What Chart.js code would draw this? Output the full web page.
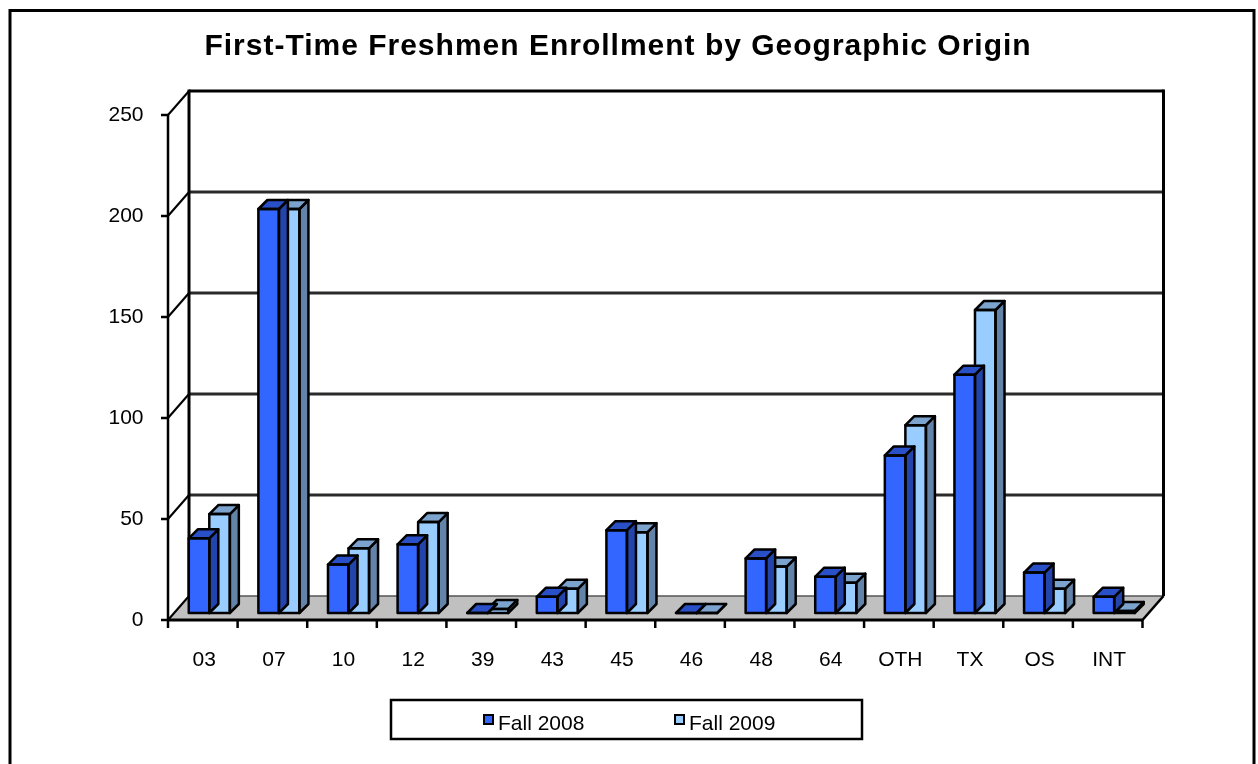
<!DOCTYPE html>
<html>
<head>
<meta charset="utf-8">
<title>First-Time Freshmen Enrollment by Geographic Origin</title>
<script src="https://cdn.jsdelivr.net/npm/chart.js@4/dist/chart.umd.min.js"></script>
<style>
  html, body { margin: 0; padding: 0; background: #fff; }
  #wrap { width: 1258px; height: 764px; }
</style>
</head>
<body>
<div id="wrap"><canvas id="chart" width="1258" height="764"></canvas></div>
<script>
// data
const categories = ['03', '07', '10', '12', '39', '43', '45', '46', '48', '64', 'OTH', 'TX', 'OS', 'INT'];
const fall2008 = [37, 200, 24, 34, 0, 8, 41, 0, 27, 18, 78, 118, 20, 8];
const fall2009 = [49, 200, 32, 45, 2, 12, 40, 0, 23, 15, 93, 150, 12, 1];
const yTicks = [0, 50, 100, 150, 200, 250];
const seriesNames = ['Fall 2008', 'Fall 2009'];
const chartTitle = 'First-Time Freshmen Enrollment by Geographic Origin';

const FONT = "'Liberation Sans', Arial, sans-serif";

// fake 3d: offsets of the front axis and the back wall from the bar plane
const depth = {
  front: { dx: -6.5, dy: 7 },
  back: { dx: 14.5, dy: -17 },
  bar: 9
};

function line(ctx, x1, y1, x2, y2) {
  ctx.beginPath();
  ctx.moveTo(x1, y1);
  ctx.lineTo(x2, y2);
  ctx.stroke();
}

function poly(ctx, pts, fill) {
  ctx.beginPath();
  ctx.moveTo(pts[0][0], pts[0][1]);
  for (let i = 1; i < pts.length; i++) ctx.lineTo(pts[i][0], pts[i][1]);
  ctx.closePath();
  ctx.fillStyle = fill;
  ctx.fill();
  ctx.stroke();
}

const walls3d = {
  id: 'walls3d',
  beforeDatasetsDraw(chart) {
    const ctx = chart.ctx;
    const x = chart.scales.x, y = chart.scales.y;
    const f = depth.front, b = depth.back;
    const yMax = yTicks[yTicks.length - 1];
    const y0 = y.getPixelForValue(0);
    const yTop = y.getPixelForValue(yMax);
    ctx.save();
    ctx.lineCap = 'butt';

    // floor
    ctx.beginPath();
    ctx.moveTo(x.left + f.dx, y0 + f.dy);
    ctx.lineTo(x.right + f.dx, y0 + f.dy);
    ctx.lineTo(x.right + b.dx, y0 + b.dy);
    ctx.lineTo(x.left + b.dx, y0 + b.dy);
    ctx.closePath();
    ctx.fillStyle = '#c0c0c0';
    ctx.fill();

    // gridlines on back wall, side wall diagonals, tick marks
    yTicks.forEach(v => {
      const py = y.getPixelForValue(v);
      if (v === 0) {
        ctx.strokeStyle = '#555';
        ctx.lineWidth = 1.5;
      } else {
        ctx.strokeStyle = v === yMax ? '#000' : '#2a2a2a';
        ctx.lineWidth = 3;
      }
      line(ctx, x.left + b.dx, py + b.dy, x.right + b.dx, py + b.dy);
      ctx.strokeStyle = '#000';
      ctx.lineWidth = 2;
      line(ctx, x.left + f.dx, py + f.dy, x.left + b.dx, py + b.dy);
      ctx.lineWidth = 2.5;
      line(ctx, x.left + f.dx - 7, py + f.dy, x.left + f.dx, py + f.dy);
    });

    ctx.strokeStyle = '#000';
    // back wall edges
    ctx.lineWidth = 3;
    line(ctx, x.left + b.dx, yTop + b.dy - 1.5, x.left + b.dx, y0 + b.dy);
    line(ctx, x.right + b.dx, yTop + b.dy - 1.5, x.right + b.dx, y0 + b.dy);
    // floor right edge
    ctx.lineWidth = 2.5;
    line(ctx, x.right + b.dx, y0 + b.dy, x.right + f.dx, y0 + f.dy);
    // front value axis
    line(ctx, x.left + f.dx, yTop + f.dy, x.left + f.dx, y0 + f.dy + 1);
    // front category axis and ticks
    ctx.lineWidth = 3;
    line(ctx, x.left + f.dx, y0 + f.dy, x.right + f.dx, y0 + f.dy);
    ctx.lineWidth = 2.5;
    const n = categories.length;
    for (let i = 0; i <= n; i++) {
      const px = x.left + f.dx + i * (x.right - x.left) / n;
      line(ctx, px, y0 + f.dy, px, y0 + f.dy + 8);
    }
    ctx.restore();
  },

  afterDatasetDraw(chart, args) {
    const ctx = chart.ctx;
    const ds = chart.data.datasets[args.index];
    const d = depth.bar;
    ctx.save();
    ctx.strokeStyle = '#000';
    ctx.lineWidth = 2.5;
    ctx.lineJoin = 'round';
    args.meta.data.forEach(bar => {
      const p = bar.getProps(['x', 'y', 'base', 'width'], true);
      const l = p.x - p.width / 2, r = p.x + p.width / 2;
      const top = p.y, bottom = p.base;
      poly(ctx, [[r, top], [r + d, top - d], [r + d, bottom - d], [r, bottom]], ds.sideColor);
      poly(ctx, [[l, top], [l + d, top - d], [r + d, top - d], [r, top]], ds.topColor);
      ctx.strokeRect(l, top, r - l, bottom - top);
    });
    ctx.restore();
  },

  afterDraw(chart) {
    const ctx = chart.ctx;
    ctx.save();
    // title
    ctx.fillStyle = '#000';
    ctx.font = 'bold 30px ' + FONT;
    ctx.textAlign = 'center';
    ctx.textBaseline = 'alphabetic';
    if ('letterSpacing' in ctx) ctx.letterSpacing = '1px';
    ctx.fillText(chartTitle, 618, 55);
    if ('letterSpacing' in ctx) ctx.letterSpacing = '0px';

    // legend box
    ctx.fillStyle = '#fff';
    ctx.fillRect(391, 700, 471, 39);
    ctx.strokeStyle = '#000';
    ctx.lineWidth = 2.5;
    ctx.strokeRect(391, 700, 471, 39);
    ctx.font = '21px ' + FONT;
    ctx.textAlign = 'left';
    chart.data.datasets.forEach((ds, i) => {
      const sx = 484 + i * 191;
      ctx.fillStyle = ds.backgroundColor;
      ctx.fillRect(sx, 715, 9, 9);
      ctx.lineWidth = 2;
      ctx.strokeRect(sx, 715, 9, 9);
      ctx.fillStyle = '#000';
      ctx.fillText(ds.label, sx + 14, 730);
    });
    // outer frame (bottom edge runs off the picture)
    ctx.lineWidth = 3;
    ctx.beginPath();
    ctx.moveTo(10, 764);
    ctx.lineTo(10, 10.5);
    ctx.lineTo(1254, 10.5);
    ctx.lineTo(1254, 764);
    ctx.stroke();
    ctx.restore();
  }
};

new Chart(document.getElementById('chart'), {
  type: 'bar',
  data: {
    labels: categories,
    datasets: [
      {
        label: seriesNames[0],
        data: fall2008,
        backgroundColor: '#3366ff',
        topColor: '#2a50c8',
        sideColor: '#2344aa',
        borderWidth: 0
      },
      {
        label: seriesNames[1],
        data: fall2009,
        backgroundColor: '#99ccff',
        topColor: '#7ba3ce',
        sideColor: '#6383a8',
        borderWidth: 0
      }
    ]
  },
  options: {
    responsive: false,
    animation: false,
    events: [],
    layout: { padding: { left: 10, right: 109, top: 108, bottom: 81 } },
    datasets: {
      bar: { categoryPercentage: 0.59, barPercentage: 1 }
    },
    plugins: {
      legend: { display: false },
      tooltip: { enabled: false },
      title: { display: false }
    },
    scales: {
      x: {
        grid: { display: false, drawTicks: false },
        border: { display: false },
        ticks: {
          color: '#000',
          font: { family: FONT, size: 21 },
          padding: 35,
          labelOffset: -5,
          maxRotation: 0,
          autoSkip: false
        },
        afterFit(scale) { scale.height = 70; }
      },
      y: {
        min: yTicks[0],
        max: yTicks[yTicks.length - 1],
        grid: { display: false, drawTicks: false },
        border: { display: false },
        afterBuildTicks(scale) { scale.ticks = yTicks.map(v => ({ value: v })); },
        ticks: {
          color: '#000',
          font: { family: FONT, size: 21 },
          padding: 31,
          labelOffset: 7
        },
        afterFit(scale) { scale.width = 164.5; }
      }
    }
  },
  plugins: [walls3d]
});
</script>
</body>
</html>
